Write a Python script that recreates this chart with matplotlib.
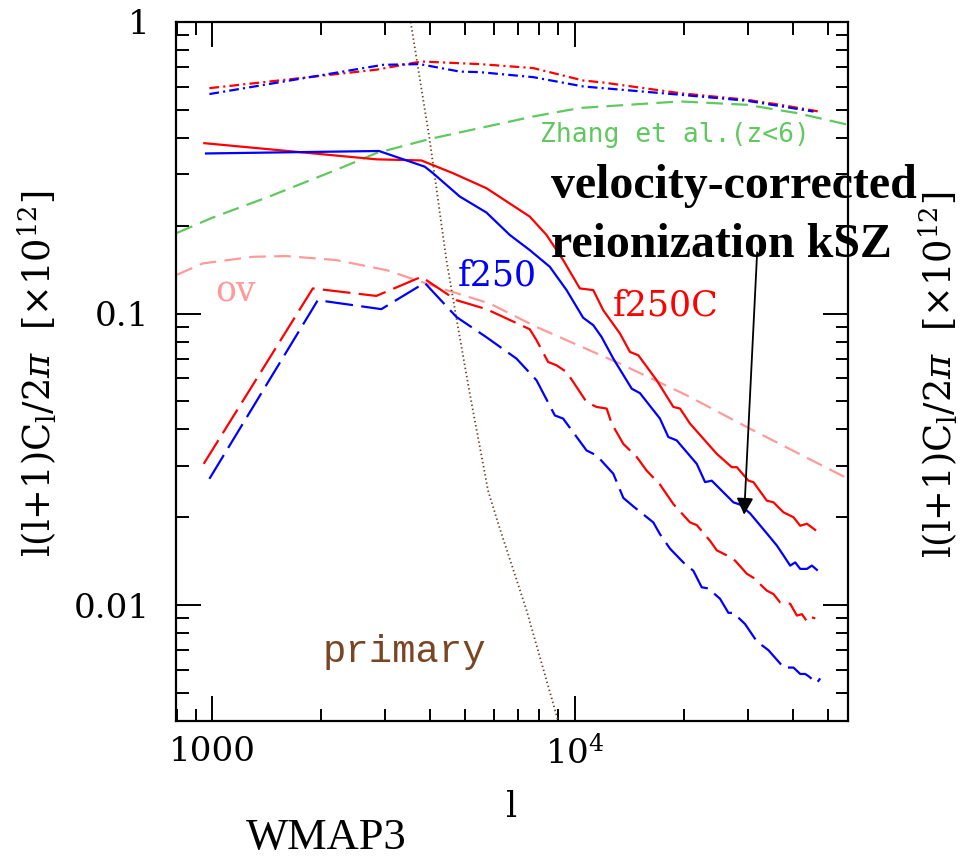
import numpy as np
import matplotlib
matplotlib.use("Agg")
import matplotlib.pyplot as plt
from matplotlib.ticker import LogLocator, NullFormatter

plt.rcParams["mathtext.fontset"] = "dejavuserif"
plt.rcParams["lines.scale_dashes"] = False

# ---- data: multipole l and l(l+1)C_l/2pi [x1e12] ----
# f250C / f250 totals (dash-dot)
l_tot_c = [983, 2838, 3778, 5475, 7684, 10560, 12000, 19540, 29870, 36910, 45620, 47090]
cl_tot_c = [0.593, 0.686, 0.732, 0.717, 0.695, 0.630, 0.620, 0.570, 0.541, 0.520, 0.497, 0.493]
l_tot = [983, 2960, 3738, 4821, 5475, 7684, 10560, 19540, 29870, 45620]
cl_tot = [0.566, 0.713, 0.717, 0.676, 0.673, 0.647, 0.601, 0.563, 0.537, 0.493]

# f250C / f250 reionization kSZ (solid)
l_ksz_c = [952, 2838, 3778, 4618, 5713, 7523, 8367, 9300, 10340, 11260, 12000, 13340,
           14220, 14990, 16850, 18730, 19540, 20820, 22660, 24680, 27150, 28030, 30180,
           31140, 33920, 35380, 37690, 40180, 41930, 43750, 46110]
cl_ksz_c = [0.384, 0.338, 0.335, 0.303, 0.269, 0.215, 0.186, 0.1525, 0.1219, 0.1203, 0.1026,
            0.0854, 0.0738, 0.0719, 0.0590, 0.0478, 0.0472, 0.0419, 0.0372, 0.0330, 0.0297,
            0.0297, 0.0267, 0.0264, 0.0228, 0.0225, 0.0208, 0.0200, 0.0187, 0.0190, 0.0181]
l_ksz = [962, 2886, 3859, 4061, 4821, 5713, 6625, 7523, 8545, 9504, 10560, 11260, 11870,
         12790, 14380, 15150, 17200, 18140, 19130, 21730, 22910, 23900, 27430, 28620, 30510,
         33920, 36140, 37690, 39340, 40610, 41930, 43750, 45160, 46610]
cl_ksz = [0.354, 0.361, 0.319, 0.3035, 0.252, 0.222, 0.186, 0.165, 0.1446, 0.1203, 0.0967,
          0.0912, 0.0831, 0.0700, 0.0552, 0.0533, 0.0436, 0.0377, 0.0367, 0.0305, 0.0264,
          0.0267, 0.0225, 0.0221, 0.0206, 0.0176, 0.0160, 0.0148, 0.01365, 0.0140, 0.0133,
          0.0133, 0.01365, 0.0132]

# f250C / f250 velocity-corrected kSZ (dashed)
l_vc_c = [948, 1896, 2838, 3778, 4721, 5713, 7523, 7852, 8453, 8918, 9504, 10790, 11500,
          12260, 12660, 13630, 14840, 15810, 17200, 18730, 20820, 21730, 23650, 24680, 26300,
          27720, 29870, 31140, 33920, 35380, 36910, 39340, 41050, 42380, 43750, 44670, 46110]
cl_vc_c = [0.0305, 0.1219, 0.1149, 0.1336, 0.1111, 0.1035, 0.0883, 0.0810, 0.0682, 0.0664,
           0.0630, 0.0497, 0.0478, 0.0472, 0.0419, 0.0357, 0.0322, 0.0289, 0.0259, 0.0222,
           0.0192, 0.0188, 0.0166, 0.0154, 0.0148, 0.0142, 0.0128, 0.0124, 0.0112, 0.0109,
           0.0102, 0.0101, 0.0092, 0.0093, 0.0088, 0.0091, 0.0090]
l_vc = [983, 1957, 2930, 3859, 4721, 5713, 6917, 7852, 8823, 9300, 10790, 11500, 12790,
        13630, 14520, 16490, 17200, 18340, 19950, 21270, 22430, 23390, 25200, 26570, 27430,
        29540, 31830, 34260, 36910, 37690, 40180, 41930, 43280, 44190, 46610, 47600]
cl_vc = [0.0271, 0.1111, 0.1035, 0.1274, 0.0973, 0.0829, 0.0700, 0.0590, 0.0447, 0.0436,
         0.0339, 0.0326, 0.0282, 0.0233, 0.0218, 0.0192, 0.0175, 0.0156, 0.0140, 0.0131,
         0.0115, 0.0114, 0.0105, 0.0094, 0.0094, 0.0086, 0.0075, 0.0070, 0.0063, 0.0061,
         0.0061, 0.0058, 0.0058, 0.0057, 0.0054, 0.0056]

# Zhang et al. (z<6) model
l_zhang = [800, 1000, 1439, 1779, 2200, 2838, 3984, 5834, 7684, 10340, 19540, 29870, 41050, 56890]
cl_zhang = [0.189, 0.213, 0.252, 0.280, 0.311, 0.355, 0.397, 0.440, 0.474, 0.507, 0.534,
            0.520, 0.487, 0.444]

# OV model
l_ov = [800, 942, 1295, 1601, 2200, 3025, 4157, 5834, 7852, 13340, 20390, 31140, 56520]
cl_ov = [0.1358, 0.1485, 0.1565, 0.1574, 0.1525, 0.1409, 0.1234, 0.1082, 0.0899, 0.0673,
         0.0524, 0.0397, 0.0272]

# primary CMB damping tail
l_prim = [3530, 3984, 4430, 4721, 5139, 5771, 6218, 7368, 9009]
cl_prim = [1.0, 0.394, 0.1525, 0.0963, 0.0531, 0.0247, 0.0183, 0.0096, 0.0040]

# arrow from the kSZ annotation to the curve
arrow_tail = (31890, 0.162)
arrow_head = (29360, 0.0204)

x_ticks = [1000, 10000]
x_ticklabels = ["1000", r"$10^4$"]
y_ticks = [0.01, 0.1, 1]
y_ticklabels = ["0.01", "0.1", "1"]

# ---- figure ----
W, H = 961, 861
fig = plt.figure(figsize=(W / 100, H / 100), dpi=100)
ax = fig.add_axes([176 / W, 1 - 721 / H, (848 - 176) / W, (721 - 22) / H])
ax.set_xscale("log")
ax.set_yscale("log")
ax.set_xlim(795, 56800)
ax.set_ylim(0.004, 1)

RED = "#ff0000"
BLUE = "#0000ff"
GREEN = "#5fc95f"
PINK = "#ff9a9a"
BROWN = "#6e3f1f"
lw = 1.6

dashdot = (0, (7, 3, 1.5, 3))
longdash = (0, (20, 6))
shortdash = (0, (12, 6))

ax.plot(l_zhang, cl_zhang, color=GREEN, lw=lw, ls=shortdash)
ax.plot(l_ov, cl_ov, color=PINK, lw=lw, ls=shortdash)
ax.plot(l_prim, cl_prim, color=BROWN, lw=1.3, ls=(0, (1, 2)))

ax.plot(l_tot_c, cl_tot_c, color=RED, lw=lw, ls=dashdot)
ax.plot(l_tot, cl_tot, color=BLUE, lw=lw, ls=dashdot)
ax.plot(l_ksz_c, cl_ksz_c, color=RED, lw=lw)
ax.plot(l_ksz, cl_ksz, color=BLUE, lw=lw)
ax.plot(l_vc_c, cl_vc_c, color=RED, lw=lw, ls=longdash)
ax.plot(l_vc, cl_vc, color=BLUE, lw=lw, ls=longdash)

ax.annotate("", xy=arrow_head, xytext=arrow_tail,
            arrowprops=dict(arrowstyle="-|>,head_length=0.5,head_width=0.25",
                            mutation_scale=20, color="black", lw=1.3,
                            shrinkA=0, shrinkB=0))

# ---- axes styling ----
tick_font = dict(family="DejaVu Serif", size=24.5)
ax.set_xticks(x_ticks)
ax.set_xticklabels(x_ticklabels, fontdict=tick_font)
ax.set_yticks(y_ticks)
ax.set_yticklabels(y_ticklabels, fontdict=tick_font)
ax.xaxis.set_minor_locator(LogLocator(base=10, subs=np.arange(2, 10), numticks=20))
ax.yaxis.set_minor_locator(LogLocator(base=10, subs=np.arange(2, 10), numticks=20))
ax.xaxis.set_minor_formatter(NullFormatter())
ax.yaxis.set_minor_formatter(NullFormatter())
ax.tick_params(which="both", direction="in", top=True, right=True, width=1.4, color="black")
ax.tick_params(which="major", length=18)
ax.tick_params(which="minor", length=9)
ax.tick_params(axis="x", which="major", pad=11)
ax.tick_params(axis="y", which="major", pad=19)
for s in ax.spines.values():
    s.set_linewidth(1.6)


def ftext(x, y, s, **kw):
    kw.setdefault("ha", "left")
    kw.setdefault("va", "baseline")
    fig.text(x / W, 1 - y / H, s, **kw)


ftext(540, 141.7, "Zhang et al.(z<6)", color=GREEN, family="DejaVu Sans Mono", size=19)
ftext(551, 198.3, "velocity-corrected", family="Liberation Serif", weight="bold", size=34.5)
ftext(551, 256.7, "reionization kSZ", family="Liberation Serif", weight="bold", size=34.5)
ftext(458, 285, "f250", color=BLUE, family="DejaVu Serif", size=25)
ftext(613, 315, "f250C", color=RED, family="DejaVu Serif", size=25)
ftext(215, 301.7, "ov", color=PINK, family="DejaVu Serif", size=25)
ftext(323, 662, "primary", color="#7a4523", family="Liberation Mono", size=28)
ftext(246, 849, "WMAP3", family="Liberation Serif", size=32)
ftext(512, 816.7, "l", ha="center", family="DejaVu Serif", size=25)

ylabel = r"l(l+1)C$_{\rm l}$/2$\pi$  [$\times$10$^{12}$]"
ftext(37, 374, ylabel, ha="center", va="center", rotation=90, family="DejaVu Serif", size=26.5)
ftext(938, 375, ylabel, ha="center", va="center", rotation=90, family="DejaVu Serif", size=26.5)

fig.savefig("out.png", dpi=100)
